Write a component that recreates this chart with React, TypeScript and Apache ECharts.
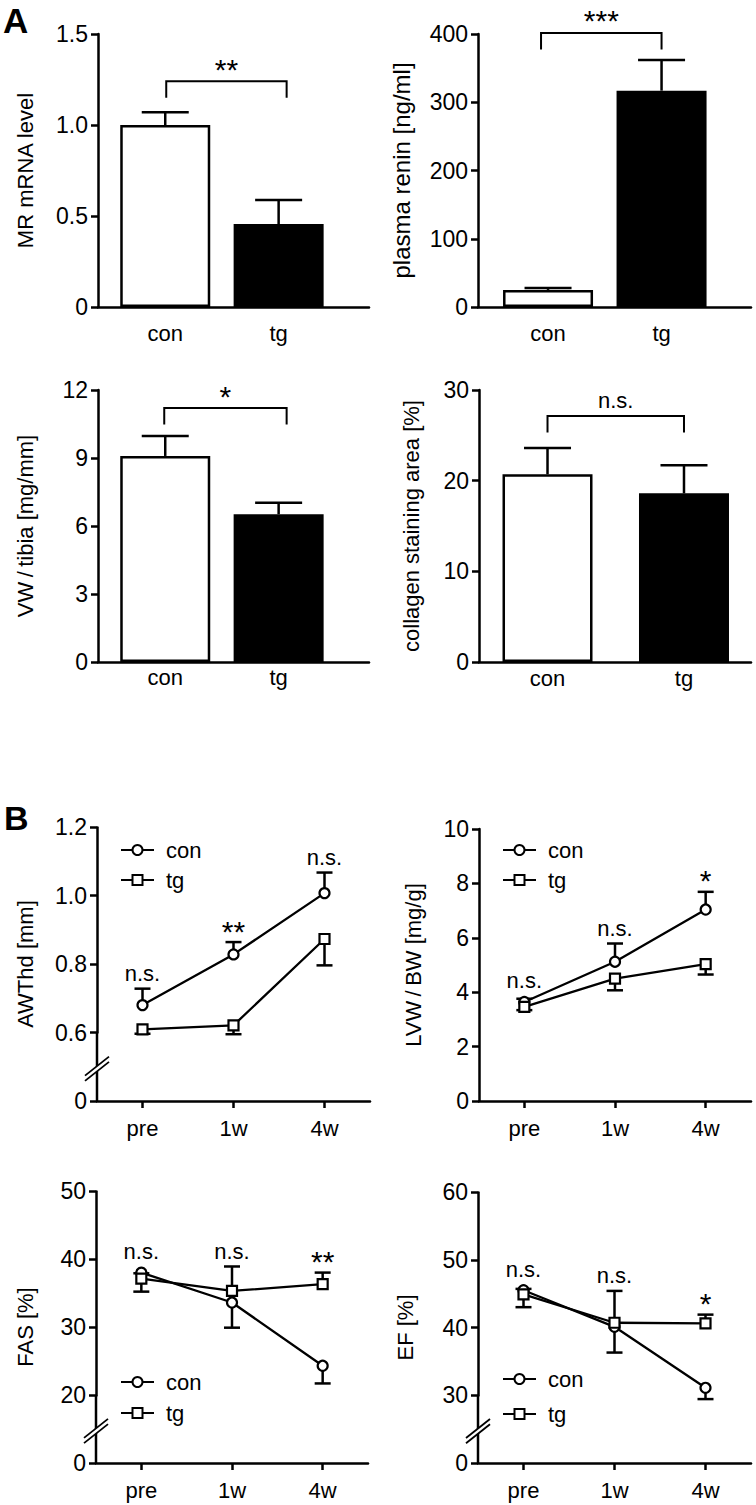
import React, { useEffect, useRef } from 'react';
import * as echarts from 'echarts';

const FONT = '"Liberation Sans", Arial, Helvetica, sans-serif';
const BLACK = '#000';

// ---------- Panel A data ----------
const groups = ['con', 'tg'];
const mrMean = [1.0, 0.456];
const mrSem = [0.07, 0.132];
const reninMean = [25, 317];
const reninSem = [3, 45];
const vwMean = [9.09, 6.52];
const vwSem = [0.88, 0.51];
const collagenMean = [20.7, 18.6];
const collagenSem = [2.9, 3.1];
const sigA = ['**', '***', '*', 'n.s.'];
const namesA = ['MR mRNA level', 'plasma renin [ng/ml]', 'VW\u2009/\u2009tibia [mg/mm]', 'collagen staining area [%]'];

// ---------- Panel B data ----------
const timepoints = ['pre', '1w', '4w'];
const awthdCon = [0.68, 0.828, 1.007];
const awthdConSem = [0.048, 0.036, 0.06];
const awthdTg = [0.609, 0.621, 0.873];
const awthdTgSem = [0.02, 0.036, 0.077];
const awthdSig = ['n.s.', '**', 'n.s.'];

const lvwCon = [3.64, 5.12, 7.04];
const lvwConSem = [0.12, 0.67, 0.65];
const lvwTg = [3.46, 4.5, 5.03];
const lvwTgSem = [0.12, 0.43, 0.38];
const lvwSig = ['n.s.', 'n.s.', '*'];

const fasCon = [38.0, 33.6, 24.3];
const fasConSem = [2.8, 3.7, 2.6];
const fasTg = [37.1, 35.3, 36.3];
const fasTgSem = [0.8, 3.6, 1.7];
const fasSig = ['n.s.', 'n.s.', '**'];

const efCon = [45.5, 40.1, 31.1];
const efConSem = [2.5, 3.8, 2.8];
const efTg = [44.9, 40.7, 40.6];
const efTgSem = [0.8, 4.7, 1.3];
const efSig = ['n.s.', 'n.s.', '*'];
const namesB = ['AWThd [mm]', 'LVW\u2009/\u2009BW [mg/g]', 'FAS [%]', 'EF [%]'];

// ---------- layout (positions / styles only) ----------
const barLayouts = [
  { grid: { left: 98, top: 34, width: 271, height: 273 }, xMin: -0.593, xMax: 1.797, yMax: 1.5, yInterval: 0.5, decimals: 1, nameGap: 62, nameSize: 22, labelMargin: 15, raise: 31, dx: [1, 8] },
  { grid: { left: 478, top: 34, width: 273, height: 273 }, xMin: -0.617, xMax: 1.788, yMax: 400, yInterval: 100, decimals: 0, nameGap: 65, nameSize: 24, labelMargin: 15, raise: 27, dx: [-7, 0] },
  { grid: { left: 98, top: 390, width: 271, height: 272 }, xMin: -0.593, xMax: 1.797, yMax: 12, yInterval: 3, decimals: 0, nameGap: 62, nameSize: 22, labelMargin: 4, raise: 28, dx: [-1, 8] },
  { grid: { left: 479, top: 390, width: 272, height: 272 }, xMin: -0.502, xMax: 1.491, yMax: 30, yInterval: 10, decimals: 0, nameGap: 57, nameSize: 22, labelMargin: 5, raise: 32, dx: [0, 0] },
];

const lineLayouts = [
  { grid: { left: 97, top: 827, width: 273, height: 274 }, yMax: 1.2, yInterval: 0.2, decimals: 1, brk: [0, 0.6, 0.2], nameGap: 61, nameSize: 22, legend: { left: 120, top: 839, itemGap: 8 } },
  { grid: { left: 479, top: 829, width: 272, height: 272 }, yMax: 10, yInterval: 2, decimals: 0, brk: null, nameGap: 55, nameSize: 22, legend: { left: 502, top: 839, itemGap: 8 } },
  { grid: { left: 96, top: 1191, width: 272, height: 272 }, yMax: 50, yInterval: 10, decimals: 0, brk: [0, 20, 10], nameGap: 60, nameSize: 22, legend: { left: 120, top: 1371, itemGap: 9 } },
  { grid: { left: 478, top: 1192, width: 273, height: 271 }, yMax: 60, yInterval: 10, decimals: 0, brk: [0, 30, 10], nameGap: 62, nameSize: 22, legend: { left: 502, top: 1368, itemGap: 13 } },
];

const barData = [
  { mean: mrMean, sem: mrSem },
  { mean: reninMean, sem: reninSem },
  { mean: vwMean, sem: vwSem },
  { mean: collagenMean, sem: collagenSem },
];

const lineData = [
  { con: awthdCon, conSem: awthdConSem, tg: awthdTg, tgSem: awthdTgSem, sig: awthdSig, conDir: 1, tgDir: -1 },
  { con: lvwCon, conSem: lvwConSem, tg: lvwTg, tgSem: lvwTgSem, sig: lvwSig, conDir: 1, tgDir: -1 },
  { con: fasCon, conSem: fasConSem, tg: fasTg, tgSem: fasTgSem, sig: fasSig, conDir: -1, tgDir: 1 },
  { con: efCon, conSem: efConSem, tg: efTg, tgSem: efTgSem, sig: efSig, conDir: -1, tgDir: 1 },
];

const LW = 2.5;
const axisLineStyle = { color: BLACK, width: LW };
const labelStyle = { fontSize: 22, fontFamily: FONT, color: BLACK };

function yAxisFor(idx: number, lay: any, name: string) {
  const ax: any = {
    gridIndex: idx,
    type: 'value',
    min: 0,
    max: lay.yMax,
    interval: lay.yInterval,
    name,
    nameLocation: 'middle',
    nameGap: lay.nameGap,
    nameTextStyle: { fontSize: lay.nameSize, fontFamily: FONT, color: BLACK },
    axisLine: { show: true, onZero: false, lineStyle: axisLineStyle },
    axisTick: { show: true, length: 7, lineStyle: { color: BLACK, width: LW } },
    axisLabel: {
      fontSize: 23,
      fontFamily: FONT,
      color: BLACK,
      margin: 10,
      formatter: (v: number) => (Math.abs(v) < 1e-9 ? '0' : Number(v).toFixed(lay.decimals)),
    },
    splitLine: { show: false },
  };
  if (lay.brk) {
    ax.breaks = [{ start: lay.brk[0], end: lay.brk[1], gap: lay.brk[2] }];
    ax.breakArea = {
      show: true,
      itemStyle: { color: 'rgba(0,0,0,0)', borderColor: 'rgba(0,0,0,0)', borderWidth: 0, opacity: 0 },
      zigzagAmplitude: 0,
      expandOnClick: false,
    };
  }
  return ax;
}

function textEl(x: number, y: number, text: string, size: number) {
  return {
    type: 'text',
    x,
    y,
    style: {
      text,
      fontSize: size,
      fontFamily: FONT,
      fill: BLACK,
      textAlign: 'center',
      textVerticalAlign: 'middle',
      align: 'center',
      verticalAlign: 'middle',
    },
  };
}

function sigText(x: number, topPx: number, s: string, inkGap: number) {
  const star = s.indexOf('*') >= 0;
  // ink centre sits inkGap px above topPx
  const y = star ? topPx - inkGap + 2 : topPx - inkGap - 2;
  return textEl(x, y, s, star ? 30 : 22);
}

function buildOption() {
  const grids: any[] = [];
  const xAxes: any[] = [];
  const yAxes: any[] = [];
  const series: any[] = [];
  const legends: any[] = [];

  // ----- Panel A: bar charts -----
  barLayouts.forEach((lay, idx) => {
    const d = barData[idx];
    grids.push({ ...lay.grid, containLabel: false });
    xAxes.push({
      gridIndex: idx,
      type: 'value',
      min: lay.xMin,
      max: lay.xMax,
      axisLine: { show: true, onZero: false, lineStyle: axisLineStyle },
      axisTick: { show: false },
      splitLine: { show: false },
      axisLabel: {
        ...labelStyle,
        margin: lay.labelMargin,
        customValues: [0, 1],
        formatter: (v: number) => {
          const r = Math.round(v);
          return Math.abs(v - r) < 1e-6 && groups[r] !== undefined ? groups[r] : '';
        },
      },
    });
    yAxes.push(yAxisFor(idx, lay, namesA[idx]));

    series.push({
      type: 'bar',
      xAxisIndex: idx,
      yAxisIndex: idx,
      barWidth: 90,
      z: 2,
      silent: true,
      itemStyle: { borderColor: BLACK, borderWidth: LW },
      data: groups.map((g, i) => ({
        name: g,
        value: [i, d.mean[i]],
        itemStyle: { color: i === 0 ? '#fff' : BLACK, borderColor: BLACK, borderWidth: LW },
      })),
    });
    // error bars (upper only)
    series.push({
      type: 'custom',
      xAxisIndex: idx,
      yAxisIndex: idx,
      z: 3,
      silent: true,
      data: groups.map((g, i) => [i, d.mean[i], d.sem[i]]),
      renderItem: (params: any, api: any) => {
        const x = api.value(0);
        const m = api.value(1);
        const e = api.value(2);
        const a = api.coord([x, m]);
        const b = api.coord([x, m + e]);
        const hw = 23.5;
        return {
          type: 'group',
          children: [
            { type: 'line', shape: { x1: a[0], y1: a[1], x2: b[0], y2: b[1] }, style: { stroke: BLACK, lineWidth: LW } },
            { type: 'line', shape: { x1: b[0] - hw, y1: b[1], x2: b[0] + hw, y2: b[1] }, style: { stroke: BLACK, lineWidth: LW } },
          ],
        };
      },
    });
    // significance bracket
    const topVal = Math.max(...d.mean.map((m, i) => m + d.sem[i]));
    series.push({
      type: 'custom',
      xAxisIndex: idx,
      yAxisIndex: idx,
      z: 3,
      silent: true,
      data: [[0, topVal]],
      renderItem: (params: any, api: any) => {
        const tv = api.value(1);
        const l = api.coord([0, tv]);
        const r = api.coord([1, tv]);
        const yTop = l[1] - lay.raise;
        const yDrop = yTop + 16.5;
        const xl = l[0] + lay.dx[0];
        const xr = r[0] + lay.dx[1];
        return {
          type: 'group',
          children: [
            {
              type: 'polyline',
              shape: { points: [[xl, yDrop], [xl, yTop], [xr, yTop], [xr, yDrop]] },
              style: { stroke: BLACK, lineWidth: 2, fill: 'none' },
            },
            sigText((xl + xr) / 2, yTop, sigA[idx], 14),
          ],
        };
      },
    });
  });

  // ----- Panel B: line charts -----
  lineLayouts.forEach((lay, k) => {
    const idx = k + 4;
    const d = lineData[k];
    grids.push({ ...lay.grid, containLabel: false });
    xAxes.push({
      gridIndex: idx,
      type: 'category',
      data: timepoints,
      boundaryGap: true,
      axisLine: { show: true, onZero: false, lineStyle: axisLineStyle },
      axisTick: { show: true, alignWithLabel: true, length: 7, lineStyle: { color: BLACK, width: LW } },
      axisLabel: { ...labelStyle, margin: 16.5 },
      splitLine: { show: false },
    });
    yAxes.push(yAxisFor(idx, lay, namesB[k]));

    const errSeries = (mean: number[], sem: number[], dir: number) => ({
      type: 'custom',
      xAxisIndex: idx,
      yAxisIndex: idx,
      z: 2,
      silent: true,
      data: mean.map((m, i) => [i, m, sem[i]]),
      renderItem: (params: any, api: any) => {
        const x = api.value(0);
        const m = api.value(1);
        const e = api.value(2);
        const a = api.coord([x, m]);
        const b = api.coord([x, m + dir * e]);
        const hw = 8;
        return {
          type: 'group',
          children: [
            { type: 'line', shape: { x1: a[0], y1: a[1], x2: b[0], y2: b[1] }, style: { stroke: BLACK, lineWidth: LW } },
            { type: 'line', shape: { x1: b[0] - hw, y1: b[1], x2: b[0] + hw, y2: b[1] }, style: { stroke: BLACK, lineWidth: LW } },
          ],
        };
      },
    });
    series.push(errSeries(d.con, d.conSem, d.conDir));
    series.push(errSeries(d.tg, d.tgSem, d.tgDir));

    const lineCommon = {
      type: 'line',
      xAxisIndex: idx,
      yAxisIndex: idx,
      z: 4,
      silent: true,
      symbolSize: 10,
      showSymbol: true,
      lineStyle: { color: BLACK, width: 2.3 },
      itemStyle: { color: '#fff', borderColor: BLACK, borderWidth: 2.2 },
    };
    series.push({ ...lineCommon, name: 'con', symbol: 'circle', data: d.con });
    series.push({ ...lineCommon, name: 'tg', symbol: 'rect', data: d.tg });

    // significance labels
    const annData = d.sig.map((s, i) => {
      const cTop = d.conDir > 0 ? d.con[i] + d.conSem[i] : d.con[i];
      const tTop = d.tgDir > 0 ? d.tg[i] + d.tgSem[i] : d.tg[i];
      return [i, Math.max(cTop, tTop), Math.max(d.con[i], d.tg[i])];
    });
    series.push({
      type: 'custom',
      xAxisIndex: idx,
      yAxisIndex: idx,
      z: 5,
      silent: true,
      data: annData,
      renderItem: (params: any, api: any) => {
        const i = api.value(0);
        const pTop = api.coord([i, api.value(1)]);
        const pM = api.coord([i, api.value(2)]);
        const top = Math.min(pTop[1], pM[1] - 6);
        return sigText(pTop[0], top, d.sig[i], 13);
      },
    });

    // axis break mark (keeps the axis line continuous, adds "//")
    if (lay.brk) {
      series.push({
        type: 'custom',
        xAxisIndex: idx,
        yAxisIndex: idx,
        z: 10,
        silent: true,
        data: [[0, lay.brk[0], lay.brk[1]]],
        renderItem: (params: any, api: any) => {
          const x = params.coordSys.x;
          const y0 = api.coord([0, api.value(1)])[1];
          const y1 = api.coord([0, api.value(2)])[1];
          const cy = (y0 + y1) / 2 + 2;
          const w = 12;
          const h = 9.5;
          const dd = 2.6;
          return {
            type: 'group',
            children: [
              { type: 'line', shape: { x1: x, y1: y0, x2: x, y2: y1 }, style: { stroke: BLACK, lineWidth: LW } },
              {
                type: 'polygon',
                shape: { points: [[x - w, cy + h - dd], [x + w, cy - h - dd], [x + w, cy - h + dd], [x - w, cy + h + dd]] },
                style: { fill: '#fff' },
              },
              { type: 'line', shape: { x1: x - w, y1: cy + h - dd, x2: x + w, y2: cy - h - dd }, style: { stroke: BLACK, lineWidth: 1.8 } },
              { type: 'line', shape: { x1: x - w, y1: cy + h + dd, x2: x + w, y2: cy - h + dd }, style: { stroke: BLACK, lineWidth: 1.8 } },
            ],
          };
        },
      });
    }

    legends.push({
      data: ['con', 'tg'],
      orient: 'vertical',
      left: lay.legend.left,
      top: lay.legend.top,
      padding: 0,
      itemGap: lay.legend.itemGap,
      itemWidth: 33,
      itemHeight: 12.5,
      selectedMode: false,
      textStyle: { fontSize: 22, fontFamily: FONT, color: BLACK, lineHeight: 22, padding: [0, 0, 0, 7] },
    });
  });

  return {
    animation: false,
    backgroundColor: '#fff',
    textStyle: { fontFamily: FONT },
    title: [
      { text: 'A', left: 3, top: 3, padding: 0, textStyle: { fontSize: 35, fontWeight: 'bold', fontFamily: FONT, color: BLACK } },
      { text: 'B', left: 4, top: 801, padding: 0, textStyle: { fontSize: 34, fontWeight: 'bold', fontFamily: FONT, color: BLACK } },
    ],
    grid: grids,
    xAxis: xAxes,
    yAxis: yAxes,
    legend: legends,
    series,
  };
}

export default function App() {
  const ref = useRef<HTMLDivElement>(null);
  useEffect(() => {
    if (!ref.current) return;
    const chart = echarts.init(ref.current, null, { renderer: 'svg' });
    chart.setOption(buildOption() as any);
    return () => {
      chart.dispose();
    };
  }, []);
  return (
    <div
      ref={ref}
      style={{ position: 'absolute', left: 0, top: 0, width: 756, height: 1505, background: '#fff' }}
    />
  );
}
